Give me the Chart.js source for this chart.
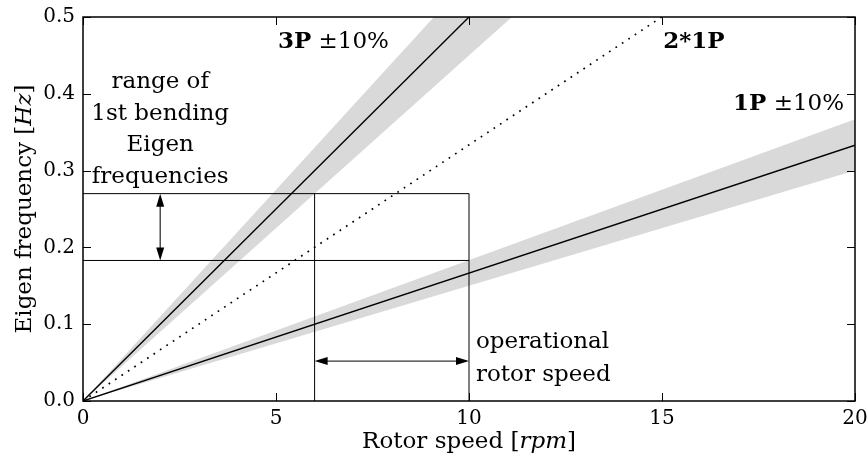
<!DOCTYPE html>
<html>
<head>
<meta charset="utf-8">
<script src="https://cdn.jsdelivr.net/npm/chart.js@4.4.1/dist/chart.umd.min.js"></script>
<style>
  html, body { margin: 0; padding: 0; background: #fff; }
  #wrap { width: 868px; height: 468px; }
</style>
</head>
<body>
<div id="wrap"><canvas id="chart"></canvas></div>
<script>
// -----------------------------
// Data
// -----------------------------
const rpm = [0, 20];
const onePHz = [0, 0.333];
const onePLowHz = [0, 0.300];
const onePHighHz = [0, 0.367];
const threePHz = [0, 1.000];
const threePLowHz = [0, 0.900];
const threePHighHz = [0, 1.100];
const twoOnePHz = [0, 0.667];

const eigenRangeHz = [0.183, 0.27];   // horizontal lines
const operRangeRpm = [6, 10];         // vertical lines
const eigenArrowRpm = 2;
const operArrowHz = 0.052;

const xTicks = [0, 5, 10, 15, 20];
const yTicks = [0.0, 0.1, 0.2, 0.3, 0.4, 0.5];

const SERIF = '"DejaVu Serif", "Liberation Serif", serif';
const BAND = '#d9d9d9';

const pts = (xs, ys) => xs.map((x, i) => ({ x, y: ys[i] }));

// -----------------------------
// Datasets (higher order = drawn underneath)
// -----------------------------
const datasets = [
  { data: pts(rpm, onePLowHz), borderWidth: 0, borderColor: BAND, fill: false, order: 10 },
  { data: pts(rpm, onePHighHz), borderWidth: 0, borderColor: BAND, backgroundColor: BAND, fill: '-1', order: 10 },
  { data: pts(rpm, threePLowHz), borderWidth: 0, borderColor: BAND, fill: false, order: 10 },
  { data: pts(rpm, threePHighHz), borderWidth: 0, borderColor: BAND, backgroundColor: BAND, fill: '-1', order: 10 },
  { data: pts(rpm, onePHz), borderColor: '#000', borderWidth: 1.4 },
  { data: pts(rpm, threePHz), borderColor: '#000', borderWidth: 1.4 },
  { data: pts(rpm, twoOnePHz), borderColor: '#000', borderWidth: 1.7, borderDash: [1.7, 6] },
  // range box lines
  { data: [{ x: 0, y: eigenRangeHz[0] }, { x: operRangeRpm[1], y: eigenRangeHz[0] }], borderColor: '#000', borderWidth: 1 },
  { data: [{ x: 0, y: eigenRangeHz[1] }, { x: operRangeRpm[1], y: eigenRangeHz[1] }], borderColor: '#000', borderWidth: 1 },
  { data: [{ x: operRangeRpm[0], y: 0 }, { x: operRangeRpm[0], y: eigenRangeHz[1] }], borderColor: '#000', borderWidth: 1 },
  { data: [{ x: operRangeRpm[1], y: 0 }, { x: operRangeRpm[1], y: eigenRangeHz[1] }], borderColor: '#000', borderWidth: 1 }
].map(d => Object.assign({ showLine: true, pointRadius: 0, tension: 0, order: 1 }, d));

// -----------------------------
// Helpers for drawing decorations
// -----------------------------
function arrowHead(ctx, x, y, dx, dy) {
  const len = 13, half = 4;
  const px = -dy, py = dx;
  ctx.beginPath();
  ctx.moveTo(x, y);
  ctx.lineTo(x - dx * len + px * half, y - dy * len + py * half);
  ctx.lineTo(x - dx * len - px * half, y - dy * len - py * half);
  ctx.closePath();
  ctx.fill();
}

function drawRuns(ctx, runs, x, y, align) {
  // runs: [{text, bold, italic}]
  const size = 23;
  const fontFor = r => `${r.italic ? 'italic ' : ''}${r.bold ? 'bold ' : ''}${size}px ${SERIF}`;
  let total = 0;
  runs.forEach(r => { ctx.font = fontFor(r); total += ctx.measureText(r.text).width; });
  let cx = align === 'center' ? x - total / 2 : x;
  ctx.textAlign = 'left';
  runs.forEach(r => {
    ctx.font = fontFor(r);
    ctx.fillText(r.text, cx, y);
    cx += ctx.measureText(r.text).width;
  });
}

const decorations = {
  id: 'decorations',
  afterDatasetsDraw(chart) {
    const { ctx, chartArea: a, scales: { x, y } } = chart;
    ctx.save();
    ctx.fillStyle = '#000';
    ctx.strokeStyle = '#000';

    // frame
    ctx.lineWidth = 1.5;
    ctx.strokeRect(a.left, a.top, a.right - a.left, a.bottom - a.top);

    // inward ticks on all sides
    ctx.lineWidth = 1;
    const tl = 8;
    xTicks.forEach(v => {
      const px = Math.round(x.getPixelForValue(v)) + 0.5;
      ctx.beginPath();
      ctx.moveTo(px, a.bottom); ctx.lineTo(px, a.bottom - tl);
      ctx.moveTo(px, a.top); ctx.lineTo(px, a.top + tl);
      ctx.stroke();
    });
    yTicks.forEach(v => {
      const py = Math.round(y.getPixelForValue(v)) + 0.5;
      ctx.beginPath();
      ctx.moveTo(a.left, py); ctx.lineTo(a.left + tl, py);
      ctx.moveTo(a.right, py); ctx.lineTo(a.right - tl, py);
      ctx.stroke();
    });

    // double arrows
    ctx.strokeStyle = '#333';
    ctx.lineWidth = 1.3;
    const ax = x.getPixelForValue(eigenArrowRpm);
    const ay0 = y.getPixelForValue(eigenRangeHz[0]);
    const ay1 = y.getPixelForValue(eigenRangeHz[1]);
    ctx.beginPath(); ctx.moveTo(ax, ay0 - 6); ctx.lineTo(ax, ay1 + 6); ctx.stroke();
    arrowHead(ctx, ax, ay1, 0, -1);
    arrowHead(ctx, ax, ay0, 0, 1);

    const hy = y.getPixelForValue(operArrowHz);
    const hx0 = x.getPixelForValue(operRangeRpm[0]);
    const hx1 = x.getPixelForValue(operRangeRpm[1]);
    ctx.beginPath(); ctx.moveTo(hx0 + 6, hy); ctx.lineTo(hx1 - 6, hy); ctx.stroke();
    arrowHead(ctx, hx0, hy, -1, 0);
    arrowHead(ctx, hx1, hy, 1, 0);

    // annotations
    ctx.fillStyle = '#000';
    ctx.textBaseline = 'alphabetic';
    drawRuns(ctx, [{ text: '3P', bold: true }, { text: ' ±10%' }],
      x.getPixelForValue(5.05), y.getPixelForValue(0.459), 'left');
    drawRuns(ctx, [{ text: '2*1P', bold: true }],
      x.getPixelForValue(15.03), y.getPixelForValue(0.459), 'left');
    drawRuns(ctx, [{ text: '1P', bold: true }, { text: ' ±10%' }],
      x.getPixelForValue(16.84), y.getPixelForValue(0.379), 'left');

    const cx = x.getPixelForValue(eigenArrowRpm);
    [['range of', 0.408], ['1st bending', 0.366], ['Eigen', 0.326], ['frequencies', 0.284]]
      .forEach(([t, v]) => drawRuns(ctx, [{ text: t }], cx, y.getPixelForValue(v), 'center'));

    const ox = x.getPixelForValue(10.18);
    drawRuns(ctx, [{ text: 'operational' }], ox, y.getPixelForValue(0.069), 'left');
    drawRuns(ctx, [{ text: 'rotor speed' }], ox, y.getPixelForValue(0.026), 'left');

    // axis titles
    drawRuns(ctx, [{ text: 'Rotor speed [' }, { text: 'rpm', italic: true }, { text: ']' }],
      (a.left + a.right) / 2, 448, 'center');
    ctx.save();
    ctx.translate(31, (a.top + a.bottom) / 2);
    ctx.rotate(-Math.PI / 2);
    drawRuns(ctx, [{ text: 'Eigen frequency [' }, { text: 'Hz', italic: true }, { text: ']' }], 0, 0, 'center');
    ctx.restore();

    ctx.restore();
  }
};

// -----------------------------
// Chart
// -----------------------------
new Chart(document.getElementById('chart'), {
  type: 'scatter',
  data: { datasets },
  options: {
    responsive: true,
    maintainAspectRatio: false,
    animation: false,
    events: [],
    layout: { padding: { left: 0, right: 13, top: 17, bottom: 0 } },
    plugins: { legend: { display: false }, tooltip: { enabled: false } },
    scales: {
      x: {
        type: 'linear', min: 0, max: 20,
        afterBuildTicks: s => { s.ticks = xTicks.map(v => ({ value: v })); },
        afterFit: s => { s.height = 67; s.paddingRight = 0; s.paddingLeft = 0; },
        grid: { display: false, drawTicks: false },
        border: { display: false },
        ticks: { color: '#000', padding: 6, font: { family: SERIF, size: 20 }, callback: v => String(v) }
      },
      y: {
        type: 'linear', min: 0, max: 0.5,
        afterBuildTicks: s => { s.ticks = yTicks.map(v => ({ value: v })); },
        afterFit: s => { s.width = 83; s.paddingTop = 0; s.paddingBottom = 0; },
        grid: { display: false, drawTicks: false },
        border: { display: false },
        ticks: { color: '#000', padding: 8, font: { family: SERIF, size: 20 }, callback: v => Number(v).toFixed(1) }
      }
    }
  },
  plugins: [decorations]
});
</script>
</body>
</html>
